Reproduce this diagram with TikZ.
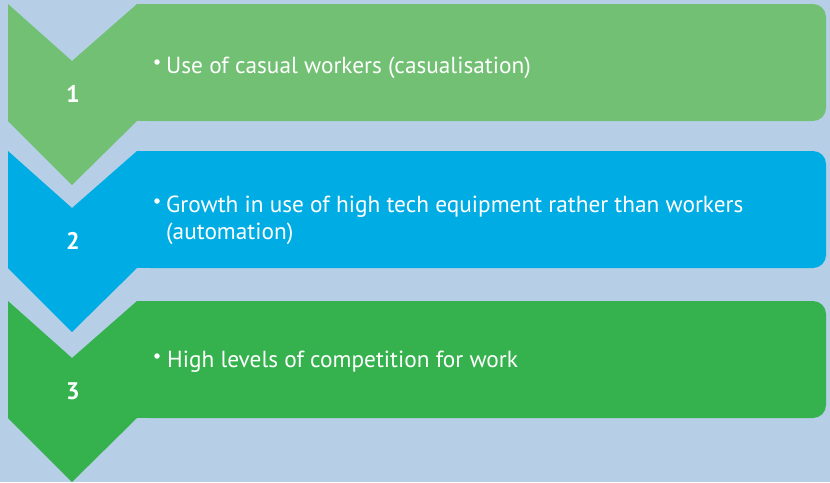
\documentclass[tikz,border=0pt]{standalone}
\usepackage{fontspec}
\setmainfont{PT Sans}
\definecolor{bgblue}{RGB}{182,207,231}
\definecolor{rowA}{RGB}{114,192,115}
\definecolor{rowB}{RGB}{0,172,228}
\definecolor{rowC}{RGB}{53,178,78}
\tikzset{
  num/.style={font=\bfseries\fontsize{24}{24}\selectfont, text=white, anchor=base, inner sep=0pt},
  item/.style={font=\fontsize{23.3}{27}\selectfont, text=white, anchor=base west, align=left, inner sep=0pt},
  dot/.style={circle, fill=white, inner sep=0pt, minimum size=5.5pt}
}
\begin{document}
\begin{tikzpicture}[x=1pt, y=-1pt] % pixel units, y down
  \fill[bgblue] (0,0) rectangle (830,482);
  \useasboundingbox (0,0) rectangle (830,482);

  % Chevrons and bars (top / colour / number)
  \foreach \T/\C/\N in {4/rowA/1, 151/rowB/2, 301/rowC/3} {
    \fill[\C] (8,\T) -- (72,\T+57) -- (137,\T) -- (137,\T+117)
      -- (72,\T+181) -- (8,\T+117) -- cycle;
    \fill[\C, rounded corners=13pt] (137,\T) rectangle (826,\T+117);
    \fill[\C] (137,\T) rectangle (200,\T+117); % square left corners
    \node[num] (n\N) at (73,\T+98) {\N};
  }

  % Bullet texts (base = last line)
  \node[item] (t1) at (166,73) {Use of casual workers (casualisation)};
  \node[item] (t2) at (166,239) {Growth in use of high tech equipment rather than workers\\(automation)};
  \node[item] (t3) at (167,367) {High levels of competition for work};

  % Bullets
  \foreach \Y in {62,201,356} {
    \node[dot] at (157,\Y) {};
  }
\end{tikzpicture}
\end{document}
